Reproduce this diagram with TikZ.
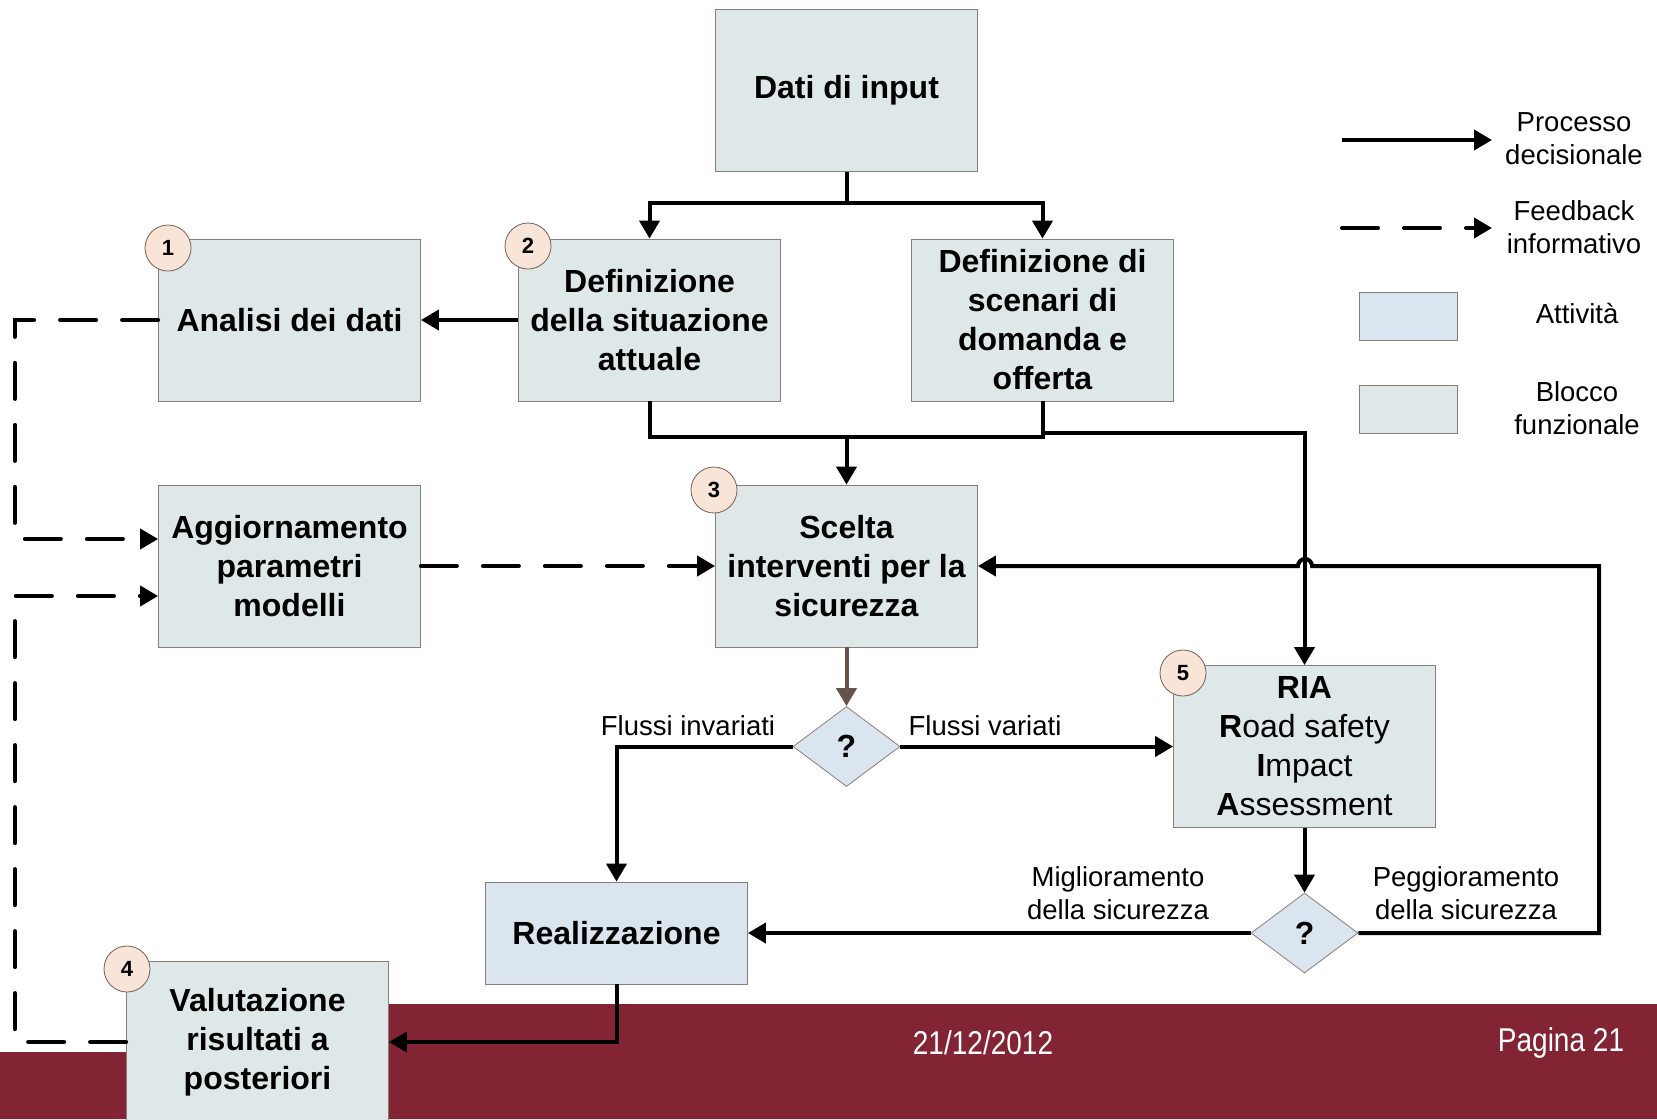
\documentclass[tikz,border=0pt]{standalone}
\usepackage{fontspec}
\setmainfont{Liberation Sans}
\newfontfamily\narrowfont[FakeStretch=0.85]{Liberation Sans}
\usetikzlibrary{shapes.geometric,arrows.meta}
\definecolor{bloccofill}{RGB}{222,232,233}
\definecolor{attivitafill}{RGB}{219,229,240}
\definecolor{boxedge}{RGB}{140,125,120}
\definecolor{numfill}{RGB}{248,229,216}
\definecolor{numedge}{RGB}{120,95,85}
\definecolor{brownarrow}{RGB}{102,84,74}
\definecolor{banda}{RGB}{130,36,52}
\tikzset{blocco/.style={draw=boxedge, fill=bloccofill, minimum width=131pt, minimum height=81pt,
  inner sep=2pt, align=center, font=\bfseries\fontsize{16}{19.5}\selectfont},
attivita/.style={blocco, fill=attivitafill},
numero/.style={circle, draw=numedge, fill=numfill, minimum size=23pt, inner sep=0pt,
  font=\bfseries\fontsize{11}{12}\selectfont},
bivio/.style={diamond, draw=boxedge, fill=attivitafill, minimum width=53.5pt, minimum height=40pt,
  inner sep=0pt, font=\bfseries\fontsize{16}{19.5}\selectfont},
etichetta/.style={align=center, font=\fontsize{13.75}{16.5}\selectfont},
flusso/.style={line width=2pt, -{Triangle[length=9pt,width=10pt]}},
feedback/.style={line width=2pt, dash pattern=on 18pt off 13pt, line cap=round,
  -{Triangle[length=9pt,width=10pt]}}}

\begin{document}
\begin{tikzpicture}[x=0.5pt,y=-0.5pt]

    \useasboundingbox (0,0) rectangle (1657,1119);
    % footer band
    \fill[banda] (0,1052) -- (250,1052) -- (250,1004) -- (1657,1004) -- (1657,1119) -- (0,1119) -- cycle;
    \node[white, font=\narrowfont\fontsize{16.5}{18}\selectfont] (data) at (983,1043) {21/12/2012};
    \node[white, font=\narrowfont\fontsize{16.5}{18}\selectfont] (pagina) at (1561,1043) {Pagina 21};

    \node[blocco] (dati) at (846.5,90.5) {Dati di input};
    \node[blocco] (analisi) at (289.5,320) {Analisi dei dati};
    \node[blocco] (situaz) at (649.5,320) {Definizione\\della situazione\\attuale};
    \node[blocco] (scenari) at (1042.5,320) {Definizione di\\scenari di\\domanda e\\offerta};
    \node[blocco] (aggiorn) at (289.5,566) {Aggiornamento\\parametri\\modelli};
    \node[blocco] (scelta) at (846.5,566) {Scelta\\interventi per la\\sicurezza};
    \node[blocco, font=\mdseries\fontsize{16}{19.5}\selectfont] (ria) at (1304.5,746.5)
        {\textbf{RIA}\\\textbf{R}oad safety\\\textbf{I}mpact\\\textbf{A}ssessment};
    \node[attivita, minimum height=51pt] (real) at (616.5,933) {Realizzazione};
    \node[blocco] (valut) at (257.5,1042) {Valutazione\\risultati a\\posteriori};
    \node[bivio] (dia1) at (846.5,746.5) {?};
    \node[bivio] (dia2) at (1304.5,933) {?};

    \foreach \n/\p in {1/{(168,248)},2/{(528,246)},3/{(714,490)},4/{(127,969)},5/{(1183,673)}}
    \node[numero] (num\n) at \p {\n};

    % processo decisionale
    \coordinate (biforca) at (846.5,203);
    \coordinate (giunto) at (846.5,437);
    \coordinate (ritorno) at (1599,566);
    \coordinate (salto) at (1312,566);
    \draw[line width=2pt] (dati.south) -- (biforca);
    \draw[flusso] (biforca) -| (situaz.north);
    \draw[flusso] (biforca) -| (scenari.north);
    \draw[flusso] (situaz.west) -- (analisi.east);
    \draw[line width=2pt] (situaz.south) |- (giunto) -| (scenari.south);
    \draw[flusso] (giunto) -- (scelta.north);
    \draw[flusso] (scenari.south) -- ++(0,32) -| (ria.north);
    \draw[flusso, brownarrow] (scelta.south) -- (dia1.north);
    \draw[flusso] (dia1.west) -| (real.north);
    \draw[flusso] (dia1.east) -- (dia1.east -| ria.west);
    \draw[flusso] (ria.south) -- (dia2.north);
    \draw[flusso] (dia2.west) -- (real.east);
    \draw[flusso] (dia2.east) -| (ritorno) -- (salto) arc (0:-180:7) -- (scelta.east);
    \draw[flusso] (real.south) |- (valut.east);

    % feedback informativo
    \draw[feedback] (analisi.west) -| (15,539) -- (aggiorn.west |- 0,539);
    \draw[feedback] (valut.west) -| (15,596) -- (aggiorn.west |- 0,596);
    \draw[feedback] (aggiorn.east) -- (scelta.west);

    \node[etichetta] (invar) at (688,726) {Flussi invariati};
    \node[etichetta] (var) at (985,726) {Flussi variati};
    \node[etichetta] (migl) at (1118,893) {Miglioramento\\della sicurezza};
    \node[etichetta] (pegg) at (1466,893) {Peggioramento\\della sicurezza};

    % legenda
    \coordinate (leg1a) at (1342,140);
    \coordinate (leg1b) at (1492,140);
    \coordinate (leg2a) at (1342,228);
    \coordinate (leg2b) at (1492,228);
    \draw[flusso] (leg1a) -- (leg1b);
    \draw[feedback] (leg2a) -- (leg2b);
    \node[etichetta] (legproc) at (1574,139) {Processo\\decisionale};
    \node[etichetta] (legfeed) at (1574,227) {Feedback\\informativo};
    \node[attivita, minimum width=49pt, minimum height=24pt] (legatt) at (1408,316) {};
    \node[blocco, minimum width=49pt, minimum height=24pt] (legbl) at (1408,409) {};
    \node[etichetta] (legatttxt) at (1577,314) {Attività};
    \node[etichetta] (legbltxt) at (1577,408) {Blocco\\funzionale};

  \end{tikzpicture}
\end{document}
